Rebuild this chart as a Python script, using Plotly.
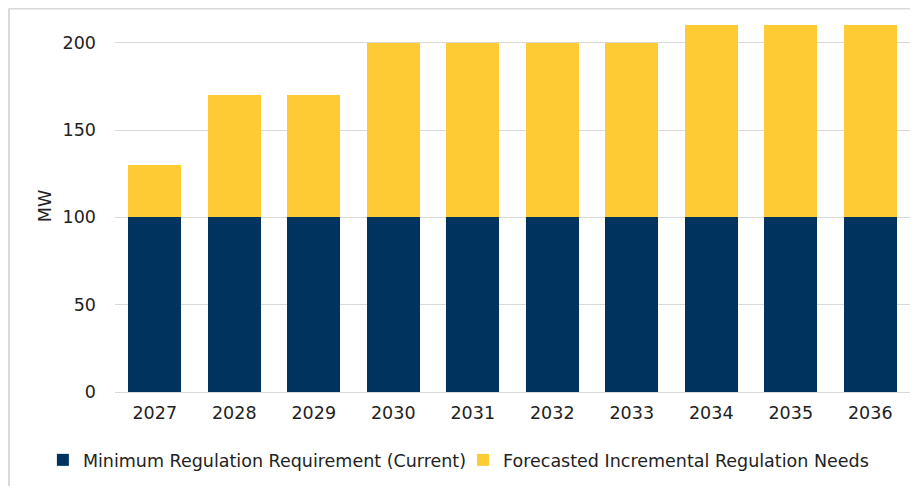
import plotly.graph_objects as go

years = ["2027", "2028", "2029", "2030", "2031", "2032", "2033", "2034", "2035", "2036"]
min_regulation = [100, 100, 100, 100, 100, 100, 100, 100, 100, 100]
incremental_needs = [30, 70, 70, 100, 100, 100, 100, 110, 110, 110]

fig = go.Figure()
fig.add_trace(go.Bar(x=years, y=min_regulation, name="Minimum Regulation Requirement (Current)",
                     marker=dict(color="#00345F", line=dict(width=0)), legend="legend"))
fig.add_trace(go.Bar(x=years, y=incremental_needs, name="Forecasted Incremental Regulation Needs",
                     marker=dict(color="#FFCB34", line=dict(width=0)), legend="legend2"))

# light frame around the chart (top and left edges show)
frame = dict(color="#D9D9D9", width=2)
fig.add_shape(type="line", xref="paper", yref="paper", x0=-0.1333, x1=1.03, y0=1.031, y1=1.031, line=frame)
fig.add_shape(type="line", xref="paper", yref="paper", x0=-0.1333, x1=-0.1333, y0=1.031, y1=-0.3, line=frame)

# one legend per series so both sit on a single row like the original
leg = dict(orientation="h", xref="container", yref="container", xanchor="left",
           y=0.07, yanchor="middle", font=dict(size=17.5), itemwidth=30,
           bgcolor="rgba(0,0,0,0)")

fig.update_layout(
    barmode="stack",
    bargap=0.33,
    width=918, height=486,
    margin=dict(l=107, r=16, t=12, b=102, autoexpand=False),
    plot_bgcolor="white", paper_bgcolor="white",
    font=dict(family="DejaVu Sans", size=17.5, color="#222222"),
    showlegend=True,
    legend=dict(leg, x=0.038),
    legend2=dict(leg, x=0.4957),
    xaxis=dict(showgrid=False, showline=False, ticks="", tickfont=dict(size=17.5),
               ticklabelstandoff=8, automargin=False),
    yaxis=dict(range=[0, 213], tickvals=[0, 50, 100, 150, 200], showgrid=True, gridcolor="#D9D9D9",
               gridwidth=1, zeroline=True, zerolinecolor="#D9D9D9", zerolinewidth=1,
               ticks="", ticklen=0, tickfont=dict(size=17.5), ticklabelstandoff=18, automargin=False,
               title=dict(text="MW", font=dict(size=17.5), standoff=6)),
)

fig.write_html("out.html")
